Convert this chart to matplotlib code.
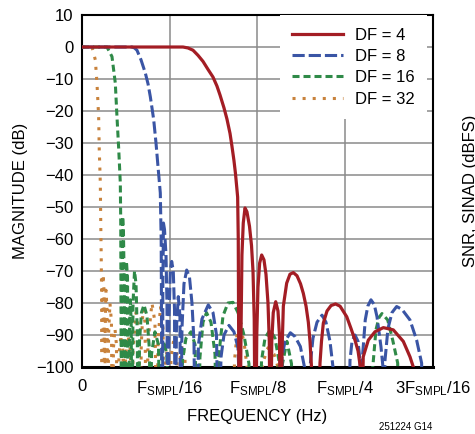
import matplotlib.pyplot as plt
import numpy as np

# frequency in units of F_SMPL/16, magnitude in dB (-120 = below the plot floor)
df4_f = [0, 1.152, 1.209, 1.266, 1.323, 1.380, 1.437, 1.494, 1.539, 1.574, 1.619, 1.653, 1.688,
         1.710, 1.733, 1.750, 1.767, 1.775, 1.782, 1.788, 1.793,
         1.804, 1.813, 1.824, 1.839, 1.859, 1.881, 1.910, 1.933, 1.950, 1.964, 1.973,
         1.984, 1.993, 2.007, 2.026, 2.049, 2.075, 2.098, 2.121, 2.136, 2.144,
         2.153, 2.164, 2.181, 2.209, 2.235, 2.252, 2.261,
         2.269, 2.281, 2.296, 2.334, 2.372, 2.410, 2.452, 2.492, 2.524, 2.555, 2.581, 2.600, 2.617, 2.628,
         2.697, 2.714, 2.731, 2.752, 2.794, 2.840, 2.891, 2.943, 3.019, 3.068, 3.113, 3.148, 3.174, 3.182,
         3.193, 3.207, 3.265, 3.341, 3.436, 3.550, 3.664, 3.740, 3.778, 3.786,
         4.0]
df4_db = [0, 0, -0.3, -1, -2.6, -4.5, -7, -9.4, -12.2, -15, -19, -22.5, -27,
          -31, -35.5, -39.5, -44.5, -46.9, -60, -100, -120,
          -120, -90, -65, -55, -50.3, -51.5, -56, -62, -70, -85, -120,
          -120, -90, -75, -67.5, -65, -66.5, -71, -80, -92, -120,
          -120, -92, -83, -79.6, -82.5, -90, -120,
          -120, -95, -81, -73.8, -71, -70.5, -71.5, -74, -77, -81, -86, -92, -100, -120,
          -120, -98.8, -92, -86.3, -82.5, -80.8, -80.3, -81, -84.3, -88, -91.6, -95, -100, -120,
          -120, -96.8, -91.6, -89, -87.7, -88.4, -92, -96.8, -100, -120,
          -120]

df8_f = [0, 0.570, 0.599, 0.627, 0.673, 0.722, 0.753, 0.779, 0.798, 0.818, 0.844, 0.867, 0.893,
         0.903, 0.909, 0.912,
         0.919, 0.922, 0.929, 0.941, 0.958, 0.969, 0.976,
         0.984, 0.992, 1.007, 1.023, 1.041, 1.055, 1.060,
         1.067, 1.077, 1.098, 1.117, 1.123,
         1.129, 1.140, 1.163, 1.194, 1.226, 1.254, 1.277, 1.289,
         1.311, 1.328, 1.368, 1.440, 1.494, 1.534, 1.551,
         1.568, 1.585, 1.619, 1.676, 1.733, 1.779, 1.813,
         2.265, 2.281, 2.315, 2.376, 2.429, 2.490, 2.537, 2.549,
         2.577, 2.600, 2.634, 2.680, 2.737, 2.782, 2.828, 2.862, 2.873,
         3.045, 3.056, 3.079, 3.113, 3.148, 3.170, 3.182,
         3.187, 3.193, 3.230, 3.259, 3.295, 3.333, 3.364, 3.409, 3.432, 3.438,
         3.444, 3.455, 3.489, 3.535, 3.588, 3.649, 3.740, 3.816, 3.873, 3.883,
         4.0]
df8_db = [0, 0, -0.3, -1, -4, -8.1, -11.5, -15.5, -19, -22.8, -30, -37.4, -45.6,
          -60, -100, -120,
          -120, -75, -55, -57, -65, -80, -120,
          -120, -85, -70, -67, -70, -82, -120,
          -120, -88, -78, -84, -120,
          -120, -88, -74, -69.7, -72, -80, -92, -120,
          -120, -93, -85, -80.6, -83, -90, -120,
          -120, -97, -90, -87, -89, -94, -120,
          -120, -96.8, -92, -89.3, -90.5, -93.6, -100, -120,
          -120, -100, -91, -86, -83.8, -86, -92, -100, -120,
          -120, -98, -92, -90, -92, -98, -120,
          -120, -98.8, -85.3, -81, -79, -80.5, -84.3, -93.6, -100, -120,
          -120, -98, -88, -83, -81.1, -82, -85.3, -91.6, -98.8, -120,
          -120]

df16_f = [0, 0.285, 0.342, 0.380, 0.399, 0.419, 0.437, 0.442, 0.447, 0.449,
          0.454, 0.458, 0.464, 0.473, 0.482, 0.488,
          0.493, 0.498, 0.507, 0.519, 0.530,
          0.534, 0.542, 0.551, 0.561, 0.568,
          0.573, 0.582, 0.599, 0.616, 0.631, 0.636,
          0.644, 0.656, 0.678, 0.707, 0.741, 0.770, 0.775,
          0.781, 0.793, 0.832, 0.872, 0.889,
          0.901, 0.912, 0.941, 0.969, 0.981,
          1.129, 1.146, 1.186, 1.243, 1.289, 1.311,
          1.328, 1.345, 1.380, 1.420, 1.471, 1.517, 1.534,
          1.545, 1.562, 1.608, 1.665, 1.722, 1.779, 1.847, 1.904, 1.916,
          2.030, 2.047, 2.087, 2.144, 2.201, 2.246, 2.258,
          2.275, 2.286, 2.337, 2.389, 2.400,
          3.307, 3.316, 3.352, 3.387, 3.421, 3.486, 3.543, 3.600, 3.609,
          4.0]
df16_db = [0, 0, -3, -11.3, -21.8, -32, -42.5, -55, -100, -120,
           -120, -70, -53, -58, -75, -120,
           -120, -80, -67, -72, -120,
           -120, -88, -79, -86, -120,
           -120, -80, -70, -74, -90, -120,
           -120, -92, -83, -80.6, -84, -95, -120,
           -120, -96, -89, -93, -120,
           -120, -96, -92, -97, -120,
           -120, -98, -91, -89, -93, -120,
           -120, -97, -86, -83, -86, -96, -120,
           -120, -96, -84, -80, -79.8, -83, -90, -99, -120,
           -120, -98, -91, -88.4, -91, -98, -120,
           -120, -99, -92, -99, -120,
           -120, -100, -88.4, -84.5, -83.3, -85.3, -91.6, -98.8, -120,
           -120]

df32_f = [0, 0.114, 0.152, 0.171, 0.190, 0.197, 0.209, 0.214, 0.219, 0.223, 0.226, 0.228,
          0.231, 0.234, 0.241, 0.251, 0.257,
          0.260, 0.265, 0.274, 0.285, 0.292,
          0.296, 0.303, 0.319, 0.336, 0.344,
          0.351, 0.359, 0.376, 0.393, 0.401,
          0.410, 0.422, 0.445, 0.467, 0.479,
          0.485, 0.496, 0.525, 0.553, 0.564,
          0.570, 0.582, 0.616, 0.650, 0.661,
          0.667, 0.676, 0.696, 0.718, 0.732,
          0.739, 0.753, 0.798, 0.832, 0.849,
          0.855, 0.867, 0.895, 0.924, 0.935,
          0.941, 0.952, 0.969, 0.992, 0.998,
          1.003, 1.015, 1.049, 1.083, 1.095,
          1.101, 1.112, 1.140, 1.174, 1.192,
          1.727, 1.739, 1.767, 1.802, 1.847, 1.882, 1.887,
          2.041, 2.058, 2.121, 2.190, 2.235, 2.241,
          4.0]
df32_db = [0, 0, -4, -11.3, -21.8, -32.2, -42.5, -55, -65, -75, -100, -120,
           -120, -85, -71, -76, -120,
           -120, -88, -76, -82, -120,
           -120, -90, -80, -86, -120,
           -120, -94, -88, -93, -120,
           -120, -96, -90, -95, -120,
           -120, -97, -90, -95, -120,
           -120, -95, -83, -89, -120,
           -120, -93, -82, -86, -120,
           -120, -92, -80, -86, -120,
           -120, -92, -81, -88, -120,
           -120, -99, -95, -99, -120,
           -120, -97, -91, -96, -120,
           -120, -99, -93, -97, -120,
           -120, -98, -90, -87.5, -92, -100, -120,
           -120, -99, -94, -96, -100, -120,
           -120]

xtick_labels = ['0', r'$\mathregular{F_{SMPL}/16}$', r'$\mathregular{F_{SMPL}/8}$',
                r'$\mathregular{F_{SMPL}/4}$', r'$\mathregular{3F_{SMPL}/16}$']
yticks = np.arange(-100, 11, 10)

plt.rcParams['font.family'] = ['Liberation Sans', 'DejaVu Sans']
plt.rcParams['mathtext.default'] = 'regular'

fig = plt.figure(figsize=(4.75, 4.34), dpi=100)
ax = fig.add_axes([0.1726, 0.1544, 0.7385, 0.811])

# draw the widest decimation last so it sits on top
l32, = ax.plot(df32_f, df32_db, color='#c8823c', lw=2.2, dashes=(1, 2.3), label='DF = 32', zorder=3)
l16, = ax.plot(df16_f, df16_db, color='#2f8a48', lw=2.2, dashes=(2.3, 1.3), label='DF = 16', zorder=4)
l8, = ax.plot(df8_f, df8_db, color='#3a55a5', lw=2.2, dashes=(4, 1.3), label='DF = 8', zorder=5)
l4, = ax.plot(df4_f, df4_db, color='#a31d24', lw=2.3, label='DF = 4', zorder=6)

ax.set_xlim(0, 4)
ax.set_ylim(-100, 10)
ax.set_xticks(range(5))
ax.set_xticklabels(xtick_labels)
ax.set_yticks(yticks)
ax.tick_params(length=0, labelsize=12)
ax.tick_params(axis='x', pad=9)
ax.tick_params(axis='y', pad=6)
ax.grid(True, color='#8a8a8a', lw=1.1)
for s in ax.spines.values():
    s.set_linewidth(1.5)
ax.spines['bottom'].set_linewidth(2.2)

ax.set_xlabel('FREQUENCY (Hz)', fontsize=12, labelpad=8)
ax.set_ylabel('MAGNITUDE (dB)', fontsize=12, labelpad=6)

leg = ax.legend(handles=[l4, l8, l16, l32], loc='upper right', bbox_to_anchor=(0.984, 1.0),
                fontsize=12, handlelength=3.05, handletextpad=0.72, labelspacing=0.38,
                borderaxespad=0, borderpad=0.75, frameon=True, fancybox=False)
leg.get_frame().set_edgecolor('none')
leg.get_frame().set_facecolor('white')
leg.get_frame().set_alpha(1)
leg.set_zorder(10)

fig.text(0.855, 0.017, '251224 G14', fontsize=7, ha='center', va='center')
# neighbouring chart's axis title, cut off by the page edge
fig.text(0.975, 0.56, 'SNR, SINAD (dBFS)', fontsize=12, rotation=90, ha='left', va='center')

plt.savefig('out.png', dpi=100)
